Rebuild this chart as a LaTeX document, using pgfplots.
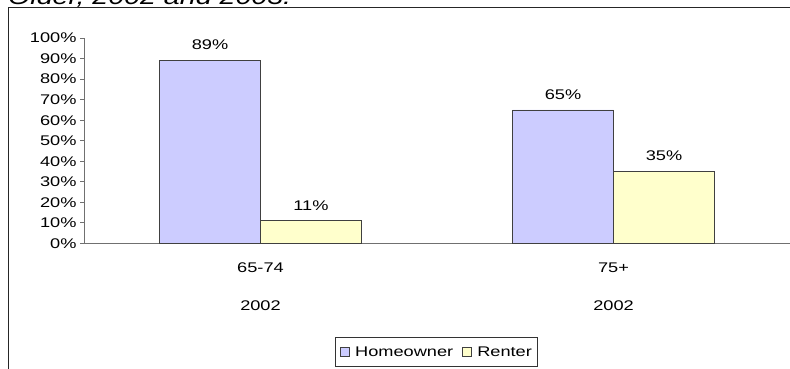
\documentclass[border=0pt]{standalone}
\usepackage{fontspec}
\setmainfont{Liberation Sans}
\usepackage{graphicx}
\usepackage{pgfplots}
\pgfplotsset{compat=1.18}

\definecolor{owner}{HTML}{CCCCFF}
\definecolor{renter}{HTML}{FFFFCC}
\definecolor{edge}{HTML}{404040}
\definecolor{axisgray}{HTML}{707070}

\newcommand{\lbl}{\fontsize{14}{17}\selectfont}
% wide-set text, as in the original Arial rendering
\newcommand{\sx}[1]{\scalebox{1.3}[1]{#1}}

\begin{document}
\begin{tikzpicture}
\useasboundingbox (0pt,0pt) rectangle (790pt,369pt);
% title line (partly above the frame)
\node[anchor=base west, inner sep=0, font=\fontsize{22}{26}\selectfont\itshape] at (8pt,364.5pt) {\sx{Older, 2002 and 2003.}};
% chart frame
\draw[black!85, line width=1pt] (8pt,-5pt) -- (8pt,361pt) -- (800pt,361pt);
\begin{axis}[
  at={(84pt,125.5pt)}, anchor=south west,
  scale only axis, width=706pt, height=205.5pt,
  xmin=0, xmax=2, ymin=0, ymax=100,
  /pgf/number format/assume math mode=true,
  axis x line=bottom, axis y line=left,
  axis line style={-, draw=axisgray, line width=0.9pt},
  ytick={0,10,...,100},
  yticklabels={\sx{0\%},\sx{10\%},\sx{20\%},\sx{30\%},\sx{40\%},\sx{50\%},\sx{60\%},\sx{70\%},\sx{80\%},\sx{90\%},\sx{100\%}},
  yticklabel style={font=\lbl, xshift=0pt},
  ytick style={draw=axisgray, line width=0.9pt},
  tick align=outside, major tick length=4pt,
  xtick={0.5,1.5},
  xticklabels={{\sx{65-74}\\[21pt]\sx{2002}},{\sx{75+}\\[21pt]\sx{2002}}},
  xticklabel style={font=\lbl, align=center, yshift=-12pt},
  xtick style={draw=none},
  extra x ticks={0,1},
  extra x tick labels={},
  extra x tick style={major tick length=74.5pt, tick style={draw=axisgray, line width=0.9pt}},
  ybar, bar width=0.286,
  point meta=y,
  nodes near coords={\sx{\pgfmathprintnumber{\pgfplotspointmeta}\%}},
  nodes near coords style={font=\lbl, anchor=south, yshift=7pt},
  legend columns=2,
  legend style={at={(0.4986,-0.528)}, anchor=center, draw=black!80,
    font=\lbl, inner xsep=3pt, inner ysep=7pt,
    /tikz/every even column/.append style={column sep=5pt}},
  legend image code/.code={%
    \draw[#1, draw=edge, line width=0.6pt] (2pt,-4pt) rectangle (11pt,4.5pt);
    \path[draw=none, fill=none] (0pt,0pt) rectangle (15pt,0.1pt);},
]
\addplot[fill=owner, draw=edge, line width=0.8pt, bar shift=-0.143] coordinates {(0.5,89) (1.5,65)};
\addplot[fill=renter, draw=edge, line width=0.8pt, bar shift=0.143] coordinates {(0.5,11) (1.5,35)};
\legend{\sx{Homeowner}, \sx{Renter}}
\end{axis}
\end{tikzpicture}
\end{document}
